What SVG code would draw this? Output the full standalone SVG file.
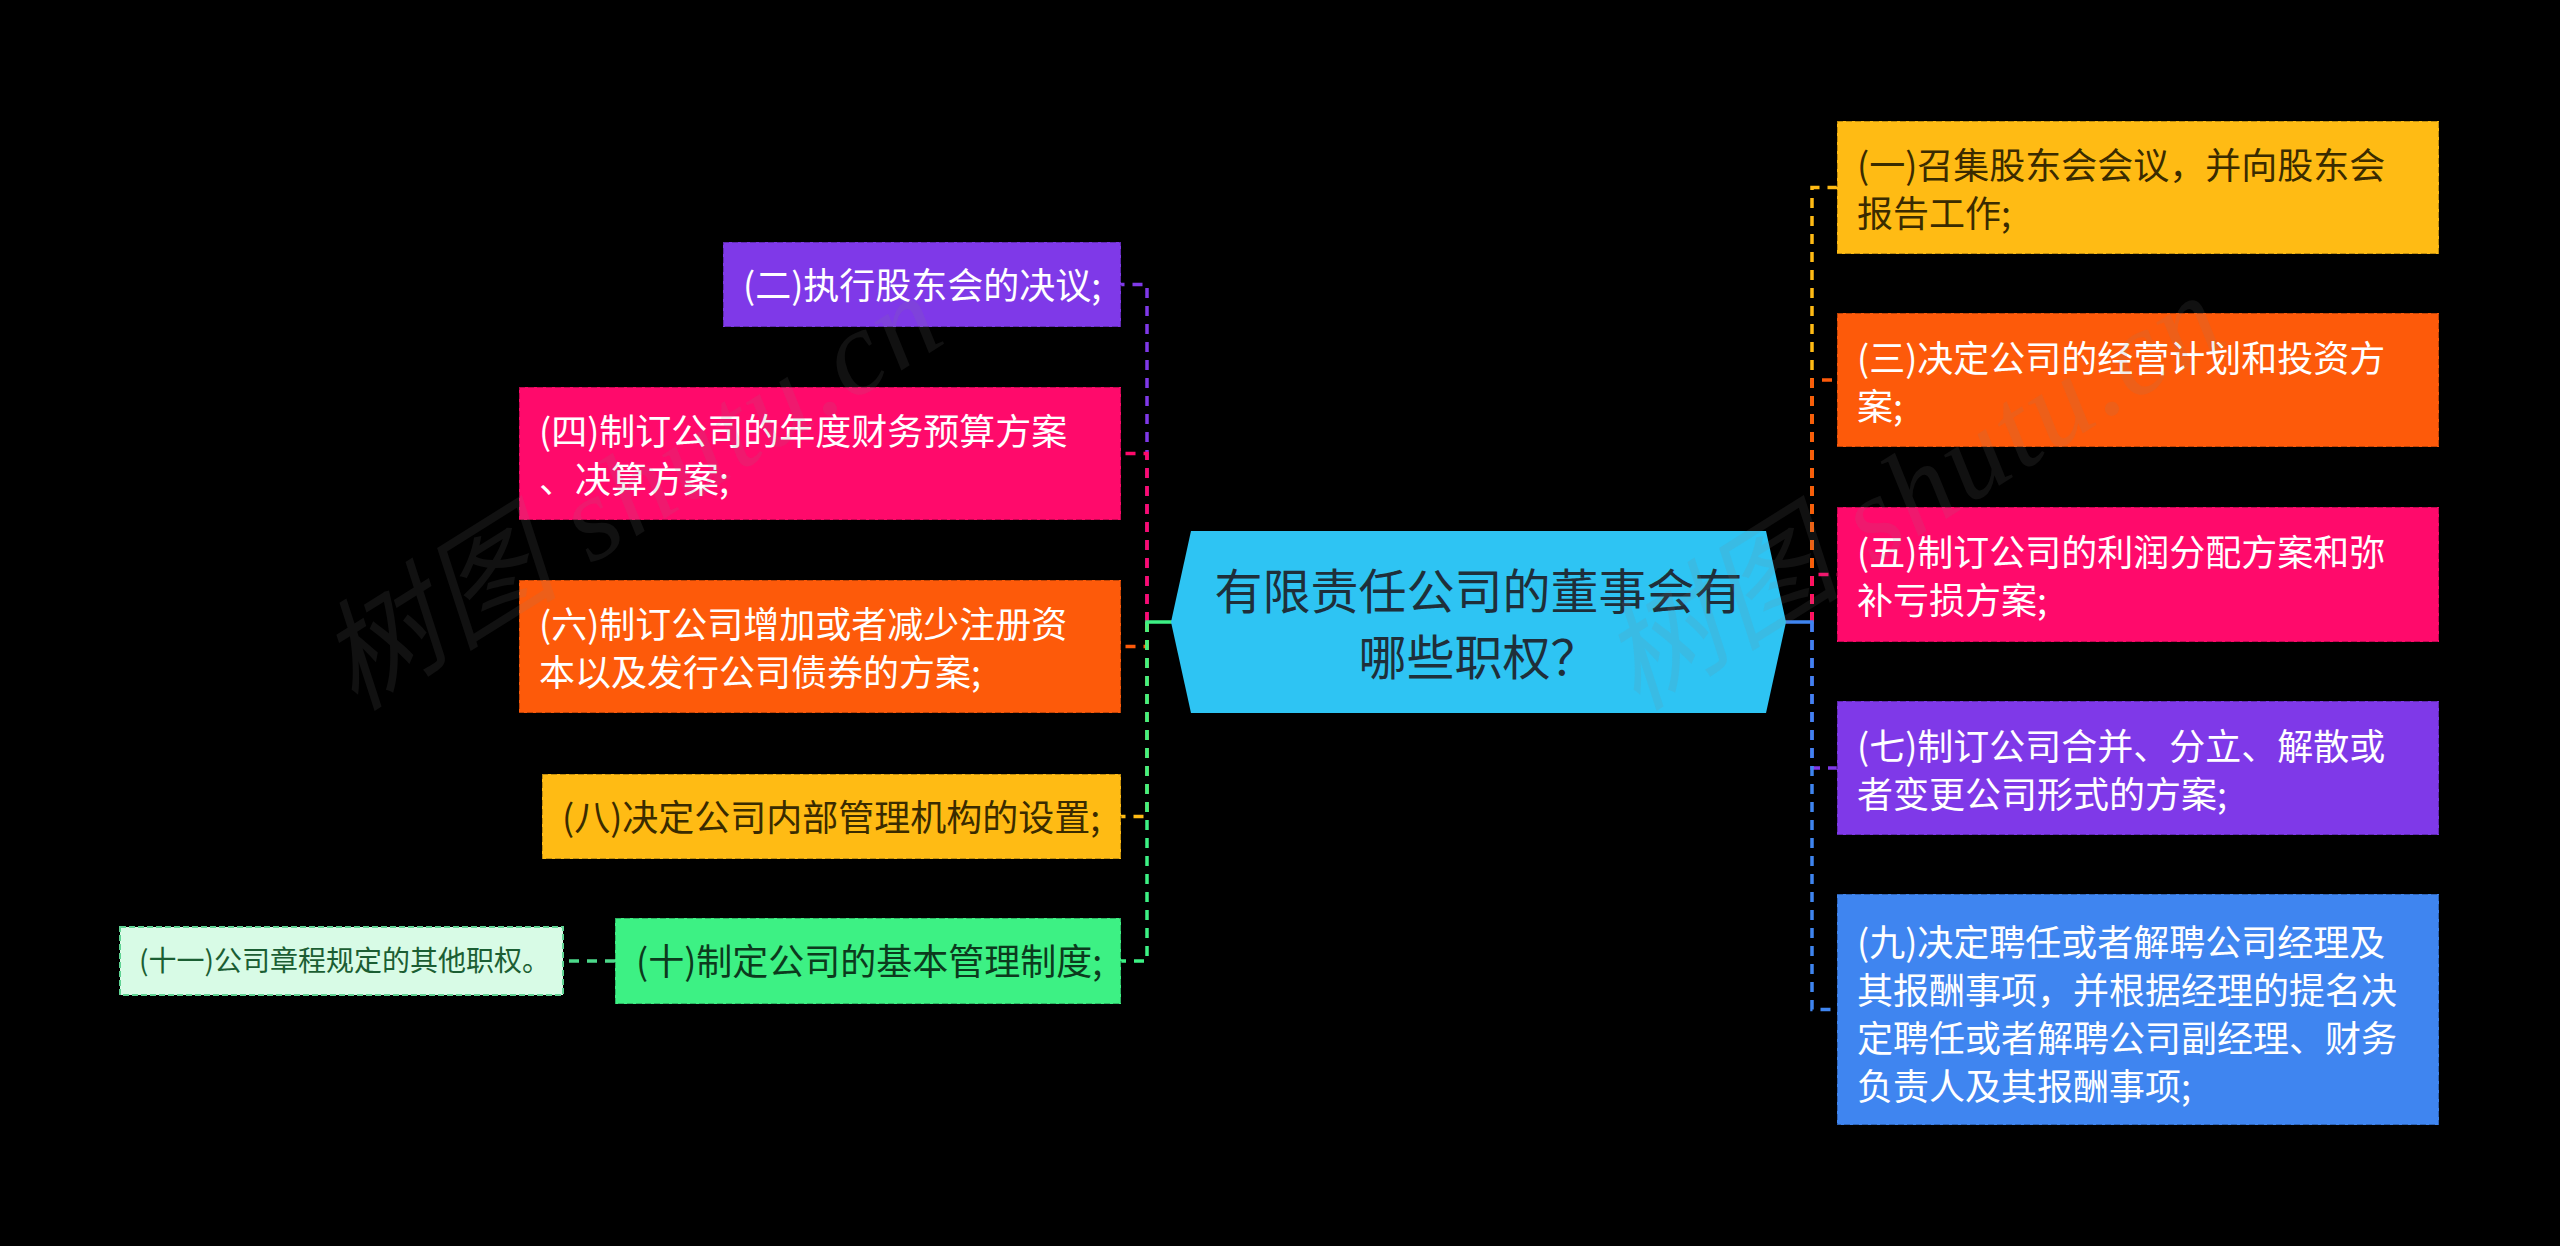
<svg xmlns="http://www.w3.org/2000/svg" width="2560" height="1246" viewBox="0 0 2560 1246">
<style>
.bg{fill:#000}
.box{stroke:rgba(0,0,0,0.25);stroke-width:2;stroke-dasharray:6 3}
.t{font-family:"Noto Sans CJK SC","Noto Sans",sans-serif;font-size:36px}
.w{fill:#ffffff}
.dk{fill:#3a2b00}
.gd{fill:#0c3a1d}
.con{fill:none;stroke-width:3.5;stroke-dasharray:10 8}
.solid{fill:none;stroke-width:3.5}
.wm{font-family:"Liberation Serif","Noto Sans CJK SC",serif;font-size:120px;font-style:italic;fill:#808080;fill-opacity:0.13}
</style>
<rect class="bg" x="0" y="0" width="2560" height="1246"/>

<g id="connectors">
  <path class="con" stroke="#FFBB14" d="M1812 622 L1812 187.5 L1837 187.5"/>
  <path class="con" stroke="#FD5A0A" d="M1812 622 L1812 380 L1837 380"/>
  <path class="con" stroke="#FF0A6B" d="M1812 622 L1812 574.5 L1837 574.5"/>
  <path class="con" stroke="#7F39E8" d="M1812 622 L1812 768 L1837 768"/>
  <path class="con" stroke="#3F85F0" d="M1812 622 L1812 1009.5 L1837 1009.5"/>
  <path class="solid" stroke="#3F85F0" d="M1784 622 L1813.7 622"/>
  <path class="con" stroke="#7F39E8" d="M1147 622 L1147 284.5 L1121 284.5"/>
  <path class="con" stroke="#FF0A6B" d="M1147 622 L1147 453.5 L1121 453.5"/>
  <path class="con" stroke="#FD5A0A" d="M1147 622 L1147 646.5 L1121 646.5"/>
  <path class="con" stroke="#FFBB14" d="M1147 622 L1147 816.5 L1121 816.5"/>
  <path class="con" stroke="#3DF184" d="M1147 622 L1147 961 L1121 961"/>
  <path class="solid" stroke="#3DF184" d="M1173 622 L1145.3 622"/>
  <path class="con" stroke="#4CD98A" d="M615 961 L563 961"/>
</g>

<g id="center">
  <polygon points="1171,622 1191,531 1766,531 1786,622 1766,713 1191,713" fill="#2EC4F3"/>
  <text x="1478.5" y="609" text-anchor="middle" style="font-family:'Noto Sans CJK SC','Noto Sans',sans-serif;font-size:48px" fill="#1f2f3a">有限责任公司的董事会有</text>
  <text x="1478.5" y="675" text-anchor="middle" style="font-family:'Noto Sans CJK SC','Noto Sans',sans-serif;font-size:48px" fill="#1f2f3a">哪些职权？</text>
</g>

<g id="n1">
  <rect class="box" x="1837" y="121" width="602" height="133" fill="#FFBB14"/>
  <text class="t dk" x="1857" y="179">(一)召集股东会会议，并向股东会</text>
  <text class="t dk" x="1857" y="227">报告工作;</text>
</g>
<g id="n3">
  <rect class="box" x="1837" y="313" width="602" height="134" fill="#FD5A0A"/>
  <text class="t w" x="1857" y="371.5">(三)决定公司的经营计划和投资方</text>
  <text class="t w" x="1857" y="419.5">案;</text>
</g>
<g id="n5">
  <rect class="box" x="1837" y="507" width="602" height="135" fill="#FF0A6B"/>
  <text class="t w" x="1857" y="566">(五)制订公司的利润分配方案和弥</text>
  <text class="t w" x="1857" y="614">补亏损方案;</text>
</g>
<g id="n7">
  <rect class="box" x="1837" y="701" width="602" height="134" fill="#7F39E8"/>
  <text class="t w" x="1857" y="760">(七)制订公司合并、分立、解散或</text>
  <text class="t w" x="1857" y="808">者变更公司形式的方案;</text>
</g>
<g id="n9">
  <rect class="box" x="1837" y="894" width="602" height="231" fill="#3F85F0"/>
  <text class="t w" x="1857" y="956">(九)决定聘任或者解聘公司经理及</text>
  <text class="t w" x="1857" y="1004">其报酬事项，并根据经理的提名决</text>
  <text class="t w" x="1857" y="1052">定聘任或者解聘公司副经理、财务</text>
  <text class="t w" x="1857" y="1100">负责人及其报酬事项;</text>
</g>

<g id="n2">
  <rect class="box" x="723" y="242" width="398" height="85" fill="#7F39E8"/>
  <text class="t w" x="743" y="299">(二)执行股东会的决议;</text>
</g>
<g id="n4">
  <rect class="box" x="519" y="387" width="602" height="133" fill="#FF0A6B"/>
  <text class="t w" x="539" y="445">(四)制订公司的年度财务预算方案</text>
  <text class="t w" x="539" y="493">、决算方案;</text>
</g>
<g id="n6">
  <rect class="box" x="519" y="580" width="602" height="133" fill="#FD5A0A"/>
  <text class="t w" x="539" y="638">(六)制订公司增加或者减少注册资</text>
  <text class="t w" x="539" y="686">本以及发行公司债券的方案;</text>
</g>
<g id="n8">
  <rect class="box" x="542" y="774" width="579" height="85" fill="#FFBB14"/>
  <text class="t dk" x="562" y="831">(八)决定公司内部管理机构的设置;</text>
</g>
<g id="n10">
  <rect class="box" x="615" y="918" width="506" height="86" fill="#3DF184"/>
  <text class="t gd" x="636" y="975">(十)制定公司的基本管理制度;</text>
</g>
<g id="n11">
  <rect x="120" y="927" width="443" height="68" fill="#D8FBE6" stroke="#5fd393" stroke-width="2" stroke-dasharray="6 3"/>
  <text x="139" y="971" style="font-family:'Noto Sans CJK SC','Noto Sans',sans-serif;font-size:28px" fill="#1b5e33">(十一)公司章程规定的其他职权。</text>
</g>

<g id="watermark">
  <text class="wm" transform="translate(355 712) rotate(-32)" textLength="700" lengthAdjust="spacing">树图 shutu.cn</text>
  <text class="wm" transform="translate(1637 712) rotate(-32)" textLength="700" lengthAdjust="spacing">树图 shutu.cn</text>
</g>
</svg>
